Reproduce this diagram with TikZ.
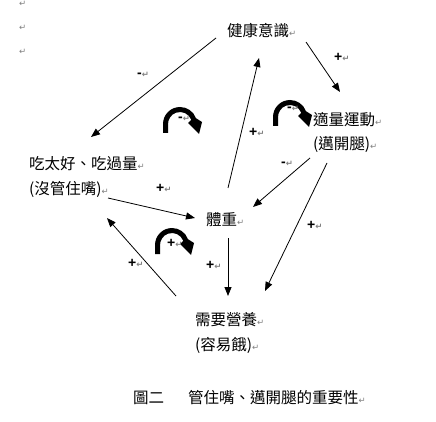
\documentclass[tikz,border=0pt]{standalone}
\usepackage{fontspec}
\setmainfont{Noto Sans CJK TC}
\newfontfamily\markfont{DejaVu Sans}
\newfontfamily\signfont{Liberation Sans}
\usetikzlibrary{arrows.meta}
\newcommand\pmk{{\markfont\fontsize{8.5}{9}\selectfont\color{gray}↵}}
\tikzset{
  lbl/.style={anchor=west, inner sep=0pt, font=\fontsize{15.5}{18}\selectfont},
  sgn/.style={anchor=west, inner sep=0pt, font=\signfont\bfseries\fontsize{14}{16}\selectfont},
  pmark/.style={anchor=west, inner sep=0pt, text=gray, font=\markfont\fontsize{8.5}{9}\selectfont},
  conn/.style={line width=0.8pt, -{Triangle[length=9pt,width=7pt]}},
  pics/curvarrow/.style={code={
    \fill (-17,9) -- (-17,0) arc[start angle=180,end angle=340,radius=17]
      -- (22,-2) -- (19,10) -- (8,-1) -- (11.3,-4.1)
      arc[start angle=340,end angle=180,radius=12] -- (-12,9) -- cycle;
  }}
}
\begin{document}
\begin{tikzpicture}[x=1pt,y=-1pt]
\useasboundingbox[fill=white] (0,0) rectangle (436,422);

% margin paragraph marks
\node[pmark] (m1) at (19,4) {↵};
\node[pmark] (m2) at (19,28) {↵};
\node[pmark] (m3) at (19,52) {↵};

% text nodes
\node[lbl] (health) at (227,31) {健康意識\pmk};
\node[lbl] (exer)   at (313,120) {適量運動\pmk};
\node[lbl] (exer2)  at (313,145) {(邁開腿)\pmk};
\node[lbl] (eat)    at (29,164) {吃太好、吃過量\pmk};
\node[lbl] (eat2)   at (29,189) {(沒管住嘴)\pmk};
\node[lbl] (wt)     at (206,220) {體重\pmk};
\node[lbl] (nut)    at (195,320) {需要營養\pmk};
\node[lbl] (nut2)   at (195,345) {(容易餓)\pmk};
\node[lbl] (cap)    at (133,398) {圖二\hspace{24pt}管住嘴、邁開腿的重要性\pmk};

% loop symbols
\pic at (180,124) {curvarrow};
\pic at (290,117) {curvarrow};
\pic at (172,245) {curvarrow};

% signs
\node[sgn] (s1)  at (137,75)  {-\pmk};
\node[sgn] (s2)  at (334,57)  {+\pmk};
\node[sgn] (s3)  at (178,119) {-\pmk};
\node[sgn] (s4)  at (287,109) {-\pmk};
\node[sgn] (s5)  at (167,243) {+\pmk};
\node[sgn] (s6)  at (249,132) {+\pmk};
\node[sgn] (s7)  at (156,188) {+\pmk};
\node[sgn] (s8)  at (281,164) {-\pmk};
\node[sgn] (s9)  at (307,225) {+\pmk};
\node[sgn] (s10) at (128,263) {+\pmk};
\node[sgn] (s11) at (206,265) {+\pmk};

% connector end points
\coordinate (h1) at (216,38);  \coordinate (e1) at (91,137);
\coordinate (h2) at (306,42);  \coordinate (x1) at (340,92);
\coordinate (w1) at (228,188); \coordinate (h3) at (259,58);
\coordinate (e2) at (108,198); \coordinate (w2) at (195,218);
\coordinate (x2) at (310,158); \coordinate (w3) at (253,207);
\coordinate (x3) at (327,163); \coordinate (n1) at (265,291);
\coordinate (w4) at (228,238); \coordinate (n2) at (228,296);
\coordinate (n3) at (176,296); \coordinate (e3) at (107,218);

\draw[conn] (h1) -- (e1);
\draw[conn] (h2) -- (x1);
\draw[conn] (w1) -- (h3);
\draw[conn] (e2) -- (w2);
\draw[conn] (x2) -- (w3);
\draw[conn] (x3) -- (n1);
\draw[conn] (w4) -- (n2);
\draw[conn] (n3) -- (e3);
\end{tikzpicture}
\end{document}
